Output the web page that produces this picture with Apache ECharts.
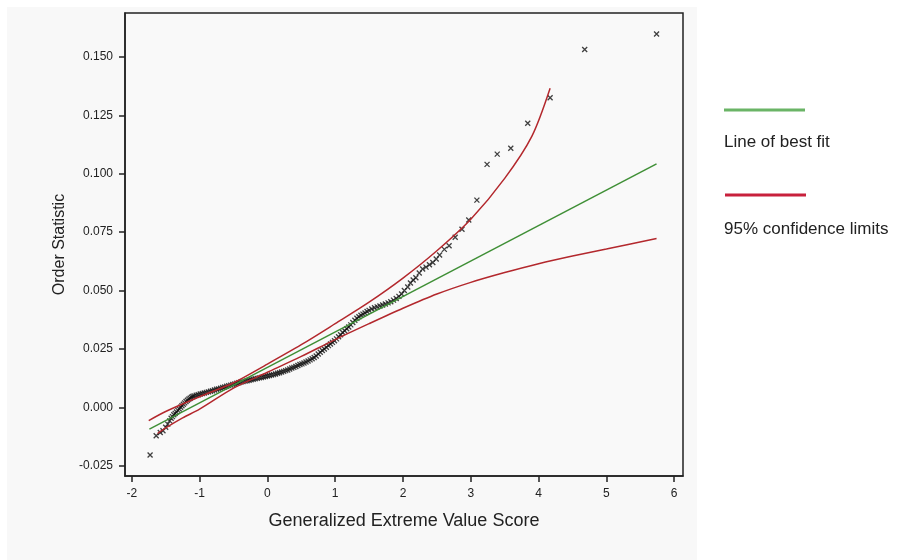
<!DOCTYPE html>
<html>
<head>
<meta charset="utf-8">
<title>GEV probability plot</title>
<script src="https://cdn.jsdelivr.net/npm/echarts@6/dist/echarts.min.js"></script>
<style>
  html, body { margin: 0; padding: 0; background: #fff; }
  #chart { width: 912px; height: 560px; }
</style>
</head>
<body>
<div id="chart"></div>
<script>
// tick labels
const xTicks = [-2, -1, 0, 1, 2, 3, 4, 5, 6];
const yTicks = [-0.025, 0, 0.025, 0.05, 0.075, 0.1, 0.125, 0.15];

const gevScore = [
  -1.73, -1.64, -1.58, -1.54, -1.50, -1.47, -1.44, -1.42, -1.40, -1.38,
  -1.36, -1.34, -1.32, -1.30, -1.28, -1.26, -1.24, -1.22, -1.20, -1.18,
  -1.16, -1.14, -1.12, -1.10, -1.08, -1.05, -1.02, -0.99, -0.96, -0.93,
  -0.90, -0.87, -0.84, -0.81, -0.78, -0.75, -0.72, -0.69, -0.66, -0.63,
  -0.60, -0.57, -0.54, -0.51, -0.48, -0.45, -0.42, -0.39, -0.36, -0.33,
  -0.30, -0.27, -0.24, -0.21, -0.18, -0.15, -0.12, -0.09, -0.06, -0.03,
  0.00, 0.03, 0.06, 0.09, 0.12, 0.15, 0.18, 0.21, 0.24, 0.27,
  0.30, 0.33, 0.36, 0.39, 0.42, 0.45, 0.48, 0.51, 0.54, 0.57,
  0.60, 0.63, 0.66, 0.69, 0.72, 0.75, 0.78, 0.81, 0.84, 0.87,
  0.90, 0.93, 0.96, 0.99, 1.02, 1.05, 1.08, 1.11, 1.14, 1.17,
  1.20, 1.23, 1.26, 1.29, 1.32, 1.35, 1.38, 1.41, 1.44, 1.47,
  1.50, 1.54, 1.58, 1.62, 1.66, 1.70, 1.74, 1.78, 1.82, 1.86,
  1.90, 1.94, 1.98, 2.02, 2.07, 2.11, 2.15, 2.19, 2.24, 2.29,
  2.34, 2.39, 2.44, 2.49, 2.54, 2.61, 2.68, 2.77, 2.87, 2.97,
  3.09, 3.24, 3.39, 3.59, 3.84, 4.17, 4.68, 5.74
];
const orderStat = [
  -0.0204, -0.0122, -0.0108, -0.0100, -0.0085, -0.0072, -0.0058, -0.0047, -0.0040, -0.0032,
  -0.0026, -0.0020, -0.0013, -0.0007, 0.0000, 0.0007, 0.0013, 0.0019, 0.0025, 0.0030,
  0.0035, 0.0039, 0.0043, 0.0046, 0.0049, 0.0052, 0.0054, 0.0057, 0.0059, 0.0061,
  0.0064, 0.0066, 0.0069, 0.0071, 0.0074, 0.0077, 0.0079, 0.0082, 0.0085, 0.0087,
  0.0090, 0.0093, 0.0095, 0.0098, 0.0100, 0.0103, 0.0105, 0.0108, 0.0110, 0.0112,
  0.0114, 0.0116, 0.0118, 0.0120, 0.0122, 0.0124, 0.0126, 0.0128, 0.0130, 0.0132,
  0.0134, 0.0136, 0.0138, 0.0140, 0.0143, 0.0146, 0.0148, 0.0151, 0.0154, 0.0157,
  0.0160, 0.0164, 0.0168, 0.0171, 0.0175, 0.0179, 0.0183, 0.0186, 0.0190, 0.0194,
  0.0198, 0.0203, 0.0208, 0.0213, 0.0220, 0.0228, 0.0236, 0.0243, 0.0250, 0.0257,
  0.0264, 0.0271, 0.0278, 0.0285, 0.0293, 0.0302, 0.0311, 0.0320, 0.0328, 0.0336,
  0.0344, 0.0353, 0.0363, 0.0373, 0.0381, 0.0388, 0.0394, 0.0399, 0.0404, 0.0410,
  0.0415, 0.0421, 0.0426, 0.0430, 0.0434, 0.0438, 0.0442, 0.0447, 0.0452, 0.0459,
  0.0466, 0.0475, 0.0485, 0.0500, 0.0515, 0.0532, 0.0545, 0.0555, 0.0575, 0.0592,
  0.0600, 0.0610, 0.0620, 0.0635, 0.0652, 0.0676, 0.0692, 0.0728, 0.0762, 0.0802,
  0.0887, 0.1040, 0.1084, 0.1109, 0.1216, 0.1325, 0.1532, 0.1598
];

// line of best fit
const fitX = [-1.74, 5.74];
const fitY = [-0.0093, 0.1042];

// 95% confidence limits
const upperX = [-1.75, -1.5, -1.0, -0.5, 0, 0.5, 1.0, 1.5, 2.0, 2.5, 3.0, 3.5, 3.9, 4.17];
const upperY = [-0.0057, -0.0018, 0.0045, 0.0105, 0.0185, 0.0268, 0.0358, 0.0450, 0.0553, 0.0670, 0.0805, 0.0980, 0.1160, 0.1366];
const lowerX = [-1.62, -1.5, -1.25, -1.0, -0.5, 0, 0.5, 1.0, 1.5, 2.0, 2.5, 3.0, 3.5, 4.0, 4.5, 5.0, 5.74];
const lowerY = [-0.0112, -0.0088, -0.0045, -0.0008, 0.0082, 0.0150, 0.0218, 0.0290, 0.0358, 0.0424, 0.0485, 0.0535, 0.0577, 0.0615, 0.0648, 0.0678, 0.0723];

const zip = (xs, ys) => xs.map((x, i) => [x, ys[i]]);

const chart = echarts.init(document.getElementById("chart"));

const fitColor = "#3f8f36";
const limitColor = "#b3282d";

chart.setOption({
  backgroundColor: "#fff",
  animation: false,
  grid: {
    left: 125,
    top: 13,
    width: 558,
    height: 463,
    show: true,
    backgroundColor: "#f9f9f9",
    borderColor: "#222",
    borderWidth: 1.5,
  },
  xAxis: {
    type: "value",
    min: -2.1,
    max: 6.13,
    name: "Generalized Extreme Value Score",
    nameLocation: "middle",
    nameGap: 36,
    nameTextStyle: { fontFamily: "Liberation Sans", fontSize: 18, color: "#222" },
    axisLine: { show: true, onZero: false, lineStyle: { color: "#222", width: 1.5 } },
    axisTick: { show: true, length: 6, customValues: xTicks, lineStyle: { color: "#222", width: 1.5 } },
    axisLabel: {
      customValues: xTicks,
      margin: 12,
      fontFamily: "Liberation Sans",
      fontSize: 12,
      color: "#222",
    },
    splitLine: { show: false },
  },
  yAxis: {
    type: "value",
    min: -0.0294,
    max: 0.1688,
    name: "Order Statistic",
    nameLocation: "middle",
    nameGap: 56,
    nameTextStyle: { fontFamily: "Liberation Sans", fontSize: 16, color: "#222" },
    axisLine: { show: true, onZero: false, lineStyle: { color: "#222", width: 1.5 } },
    axisTick: { show: true, length: 6, customValues: yTicks, lineStyle: { color: "#222", width: 1.5 } },
    axisLabel: {
      customValues: yTicks,
      margin: 12,
      fontFamily: "Liberation Sans",
      fontSize: 12,
      color: "#222",
      formatter: (v) => v.toFixed(3),
    },
    splitLine: { show: false },
  },
  graphic: [
    {
      type: "rect",
      z: -100,
      shape: { x: 7, y: 7, width: 690, height: 553 },
      style: { fill: "#f8f8f8" },
      silent: true,
    },
    {
      type: "line",
      shape: { x1: 724, y1: 110, x2: 805, y2: 110 },
      style: { stroke: "#6ab466", lineWidth: 3 },
    },
    {
      type: "text",
      left: 724,
      top: 134,
      style: { text: "Line of best fit", font: "17px 'Liberation Sans'", fill: "#222" },
    },
    {
      type: "line",
      shape: { x1: 725, y1: 195, x2: 806, y2: 195 },
      style: { stroke: "#c8203c", lineWidth: 3 },
    },
    {
      type: "text",
      left: 724,
      top: 221,
      style: { text: "95% confidence limits", font: "17px 'Liberation Sans'", fill: "#222" },
    },
  ],
  series: [
    {
      name: "Order statistic",
      type: "scatter",
      data: zip(gevScore, orderStat),
      symbol: "path://M0,0L10,10M10,0L0,10",
      symbolSize: 5,
      itemStyle: { color: "transparent", borderColor: "#111", borderWidth: 1.3 },
      z: 3,
    },
    {
      name: "Line of best fit",
      type: "line",
      data: zip(fitX, fitY),
      showSymbol: false,
      lineStyle: { color: fitColor, width: 1.5 },
      z: 4,
    },
    {
      name: "95% upper",
      type: "line",
      data: zip(upperX, upperY),
      showSymbol: false,
      smooth: 0.3,
      lineStyle: { color: limitColor, width: 1.5 },
      z: 4,
    },
    {
      name: "95% lower",
      type: "line",
      data: zip(lowerX, lowerY),
      showSymbol: false,
      smooth: 0.3,
      lineStyle: { color: limitColor, width: 1.5 },
      z: 4,
    },
  ],
});
</script>
</body>
</html>
